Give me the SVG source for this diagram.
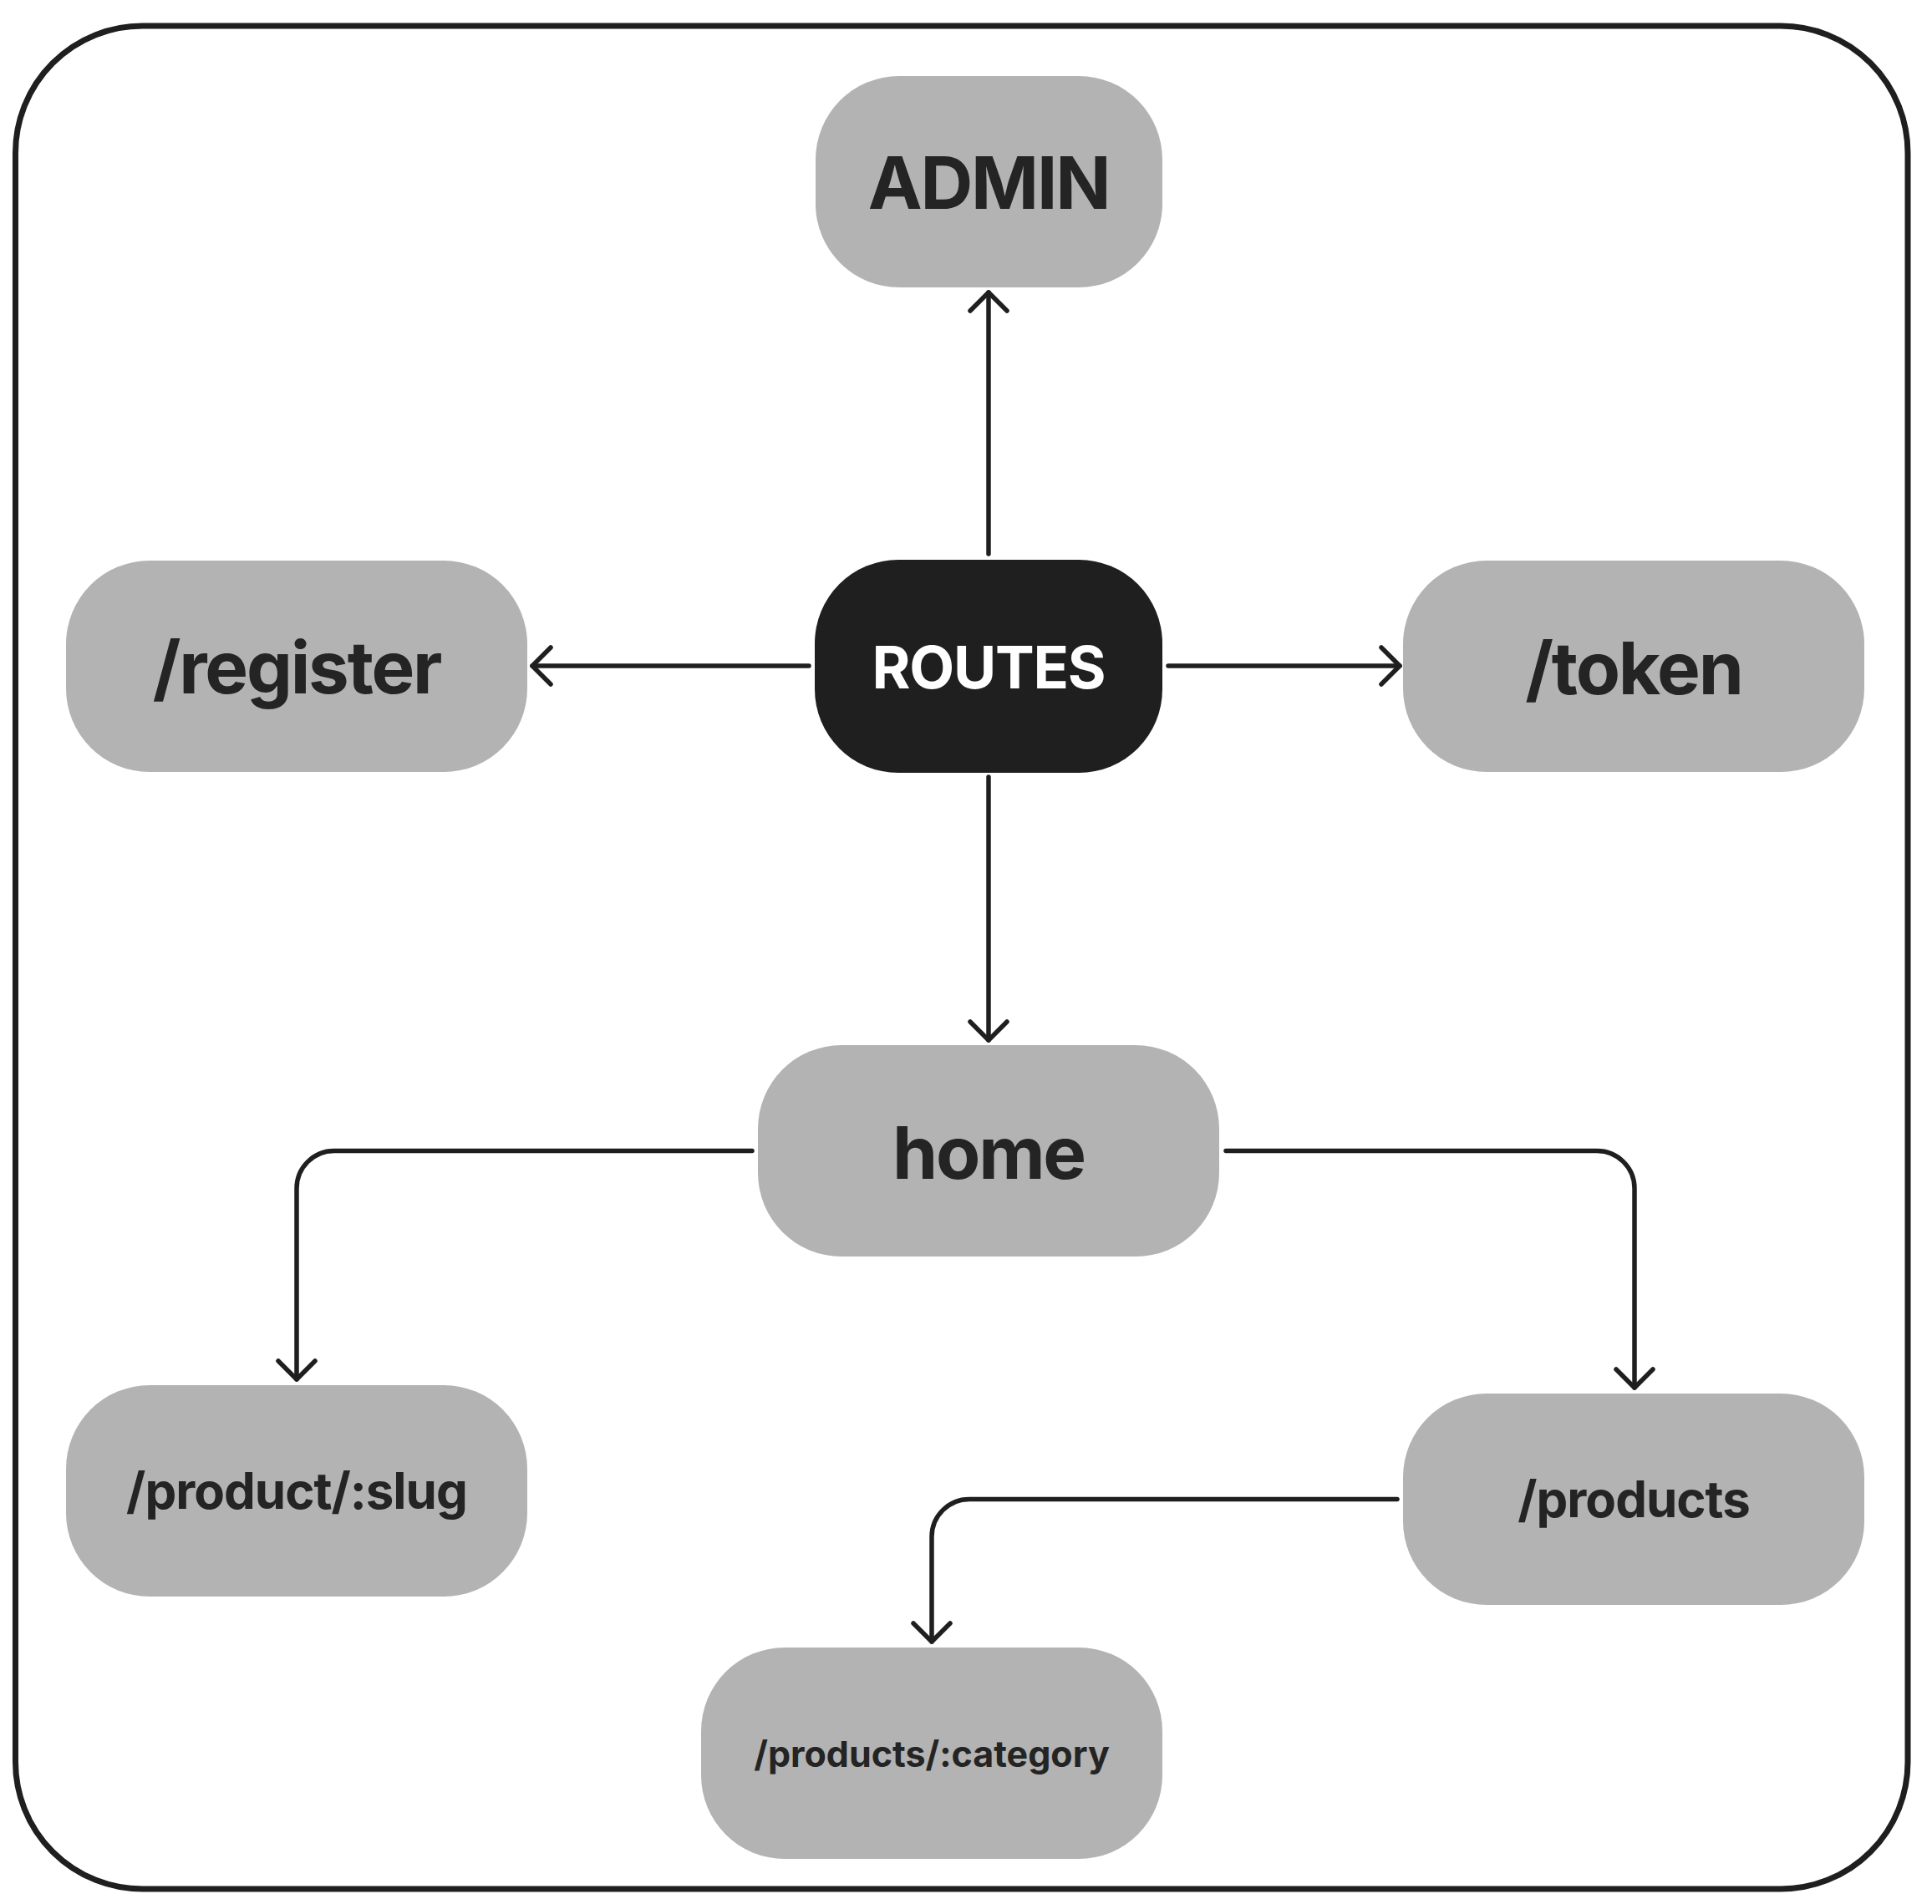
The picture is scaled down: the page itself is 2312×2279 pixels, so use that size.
<svg xmlns="http://www.w3.org/2000/svg" width="2312" height="2279" viewBox="0 0 2312 2279">
<style>
.box{fill:#b3b3b3}
.dark{fill:#1f1f1f}
.lbl{font-family:Inter,"Liberation Sans",sans-serif;font-weight:700;fill:#242424;text-anchor:middle}
.big{font-size:87px;letter-spacing:-2.2px}
.mid{font-size:60px;letter-spacing:-1px}
.sm{font-size:43px}
.wht{fill:#ffffff;font-size:70px;letter-spacing:-1.2px}
.con{fill:none;stroke:#1f1f1f;stroke-width:5.5;stroke-linecap:round;stroke-linejoin:round}
</style>
<defs>
<marker id="arr" viewBox="0 0 60 60" markerWidth="60" markerHeight="60" refX="30" refY="30" orient="auto" markerUnits="userSpaceOnUse" overflow="visible">
<path d="M8 8 L30 30 L8 52" fill="none" stroke="#1f1f1f" stroke-width="5.5" stroke-linecap="round" stroke-linejoin="round"/>
</marker>
</defs>
<rect width="2312" height="2279" fill="#ffffff"/>
<rect id="frame" x="18.5" y="31" width="2264.5" height="2230" rx="152" ry="152" fill="none" stroke="#1f1f1f" stroke-width="7"/>
<g id="connectors">
<path class="con" d="M1183 663 L1183 350" marker-end="url(#arr)"/>
<path class="con" d="M968 797 L637 797" marker-end="url(#arr)"/>
<path class="con" d="M1398 797 L1675 797" marker-end="url(#arr)"/>
<path class="con" d="M1183 930 L1183 1245" marker-end="url(#arr)"/>
<path class="con" d="M900 1377.5 L400 1377.5 A45 45 0 0 0 355 1422.5 L355 1651" marker-end="url(#arr)"/>
<path class="con" d="M1467 1377.5 L1911 1377.5 A45 45 0 0 1 1956 1422.5 L1956 1661" marker-end="url(#arr)"/>
<path class="con" d="M1672 1794.5 L1160 1794.5 A45 45 0 0 0 1115 1839.5 L1115 1965" marker-end="url(#arr)"/>
</g>
<g id="admin">
<rect class="box" x="976" y="91" width="415" height="253" rx="100"/>
<text class="lbl big" x="1183" y="250">ADMIN</text>
</g>
<g id="routes">
<rect class="dark" x="975" y="670" width="416" height="255" rx="100"/>
<text class="lbl wht" x="1183" y="824">ROUTES</text>
</g>
<g id="register">
<rect class="box" x="79" y="671" width="552" height="253" rx="100"/>
<text class="lbl big" x="355" y="830">/register</text>
</g>
<g id="token">
<rect class="box" x="1679" y="671" width="552" height="253" rx="100"/>
<text class="lbl big" x="1955" y="831">/token</text>
</g>
<g id="home">
<rect class="box" x="907" y="1251" width="552" height="253" rx="100"/>
<text class="lbl big" x="1183" y="1411">home</text>
</g>
<g id="product-slug">
<rect class="box" x="79" y="1658" width="552" height="253" rx="100"/>
<text class="lbl mid" x="355" y="1806">/product/:slug</text>
</g>
<g id="products">
<rect class="box" x="1679" y="1668" width="552" height="253" rx="100"/>
<text class="lbl mid" x="1955" y="1816">/products</text>
</g>
<g id="products-category">
<rect class="box" x="839" y="1972" width="552" height="253" rx="100"/>
<text class="lbl sm" x="1115" y="2115">/products/:category</text>
</g>
</svg>
